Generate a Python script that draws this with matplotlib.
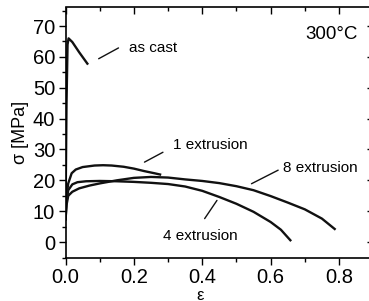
import numpy as np
import matplotlib
matplotlib.use('Agg')
import matplotlib.pyplot as plt
from matplotlib.ticker import MultipleLocator, FormatStrFormatter, NullFormatter

plt.rcParams['font.family'] = ['Liberation Sans', 'DejaVu Sans']

# stress-strain curves (strain, stress in MPa)
cast_eps = [0, 0.003, 0.006, 0.009, 0.02, 0.04, 0.066]
cast_sig = [8, 45, 64, 66, 64.8, 61.5, 57.5]

ext1_eps = [0, 0.003, 0.008, 0.018, 0.03, 0.05, 0.085, 0.11, 0.135, 0.17, 0.2, 0.23, 0.26, 0.28]
ext1_sig = [8, 15, 19, 22.3, 23.5, 24.3, 24.8, 24.9, 24.8, 24.4, 23.8, 23.0, 22.3, 21.8]

ext4_eps = [0, 0.003, 0.008, 0.02, 0.035, 0.06, 0.1, 0.15, 0.2, 0.25, 0.3, 0.35,
            0.4, 0.45, 0.5, 0.55, 0.6, 0.63, 0.66]
ext4_sig = [7, 13, 16.8, 18.7, 19.4, 19.7, 19.8, 19.7, 19.5, 19.2, 18.8, 18.0,
            16.6, 14.6, 12.4, 9.8, 6.5, 4.0, 0.3]

ext8_eps = [0, 0.003, 0.008, 0.02, 0.04, 0.07, 0.1, 0.15, 0.2, 0.25, 0.3, 0.35,
            0.4, 0.45, 0.5, 0.55, 0.6, 0.65, 0.7, 0.75, 0.79]
ext8_sig = [7, 12, 15, 16.3, 17.4, 18.3, 19.0, 20.0, 20.8, 21.1, 20.9, 20.3,
            19.8, 19.1, 18.1, 16.8, 14.9, 12.8, 10.6, 7.6, 4.0]

fig = plt.figure(figsize=(3.69, 3.01), dpi=100)
ax = fig.add_axes([65.5/369, 1-257.5/301, (373.2-65.5)/369, 250/301])

for e, s in [(cast_eps, cast_sig), (ext1_eps, ext1_sig), (ext4_eps, ext4_sig), (ext8_eps, ext8_sig)]:
    ax.plot(e, s, color='#111111', lw=1.7, solid_capstyle='butt')

ax.set_xlim(0, 0.9)
ax.set_ylim(-5, 76)

ax.xaxis.set_major_locator(MultipleLocator(0.2))
ax.xaxis.set_minor_locator(MultipleLocator(0.1))
ax.yaxis.set_major_locator(MultipleLocator(10))
ax.yaxis.set_minor_locator(MultipleLocator(5))
ax.xaxis.set_major_formatter(FormatStrFormatter('%.1f'))

for sp in ax.spines.values():
    sp.set_linewidth(1.2)
ax.spines['top'].set_visible(False)
ax.spines['right'].set_visible(False)

# bottom/left ticks outward
ax.tick_params(which='major', direction='out', length=5, width=1, labelsize=14.5, pad=2.5)
ax.tick_params(which='minor', direction='out', length=3, width=1)

# top/right ticks inward, no labels
top = ax.secondary_xaxis('top')
top.xaxis.set_major_locator(MultipleLocator(0.2))
top.xaxis.set_minor_locator(MultipleLocator(0.1))
top.xaxis.set_major_formatter(NullFormatter())
top.tick_params(which='major', direction='in', length=5, width=1)
top.tick_params(which='minor', direction='in', length=3, width=1)
top.spines['top'].set_linewidth(1.2)

right = ax.secondary_yaxis('right')
right.yaxis.set_major_locator(MultipleLocator(10))
right.yaxis.set_minor_locator(MultipleLocator(5))
right.yaxis.set_major_formatter(NullFormatter())
right.tick_params(which='major', direction='in', length=4, width=1)
right.tick_params(which='minor', length=0)
right.spines['right'].set_linewidth(1.2)

ax.set_xlabel('ε', fontsize=12)
ax.xaxis.label.set_va('center')
ax.xaxis.set_label_coords(0.437, -0.15)
ax.set_ylabel('σ [MPa]', fontsize=13, labelpad=3)

# leader lines and labels
lbl = dict(fontsize=11, ha='left', va='center')
line = dict(arrowstyle='-', lw=1.0, color='#111111', shrinkA=0, shrinkB=0)
ax.annotate('', xy=(0.097, 59.4), xytext=(0.155, 62.9), arrowprops=line)
ax.text(0.185, 62.9, 'as cast', **lbl)
ax.annotate('', xy=(0.231, 25.9), xytext=(0.285, 29.1), arrowprops=line)
ax.text(0.313, 31.6, '1 extrusion', **lbl)
ax.annotate('', xy=(0.407, 7.6), xytext=(0.443, 13.5), arrowprops=line)
ax.text(0.284, 1.9, '4 extrusion', **lbl)
ax.annotate('', xy=(0.544, 18.9), xytext=(0.622, 23.3), arrowprops=line)
ax.text(0.637, 24.1, '8 extrusion', **lbl)

ax.text(0.856, 67.4, '300°C', fontsize=13.5, ha='right', va='center')

fig.savefig('out.png', dpi=100)
